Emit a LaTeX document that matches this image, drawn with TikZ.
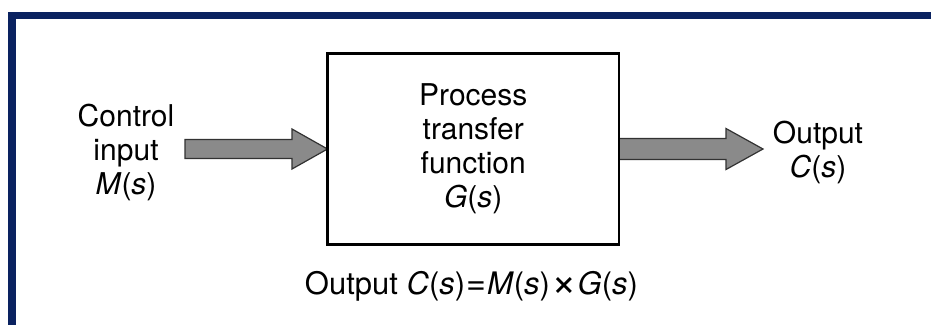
\documentclass[tikz,border=0pt]{standalone}
\usepackage{fontspec}
\setmainfont{TeX Gyre Heros}
\usetikzlibrary{calc}
\definecolor{navy}{RGB}{10,34,96}
\definecolor{arrowgray}{RGB}{138,138,138}
\definecolor{arrowline}{RGB}{50,50,50}
\tikzset{
  lbl/.style={font=\fontsize{30}{34}\selectfont, align=center, inner sep=0pt, outer sep=0pt},
  procbox/.style={draw=black, line width=2.8pt, minimum width=291.5pt, minimum height=191pt, inner sep=0pt, outer sep=0pt, lbl},
  blockarrow/.style={fill=arrowgray, draw=arrowline, line width=1.2pt, line join=miter},
  framebar/.style={fill=navy, draw=none}
}
\begin{document}
\begin{tikzpicture}[x=1pt,y=-1pt]
\useasboundingbox (0,0) rectangle (931,325);
\fill[white] (0,0) rectangle (931,325);
% frame
\fill[framebar] (8.3,11.7) rectangle (931,19.2);
\fill[framebar] (8.3,11.7) rectangle (16.2,325);
% process box
\node[procbox] (box) at (473.25,149) {Process\\transfer\\function\\\textit{G}(\textit{s})};
% input label
\node[lbl] (in) at (126,152) {Control\\input\\\textit{M}(\textit{s})};
% output label
\node[lbl] (out) at (818,152) {Output\\\textit{C}(\textit{s})};
% left block arrow
\draw[blockarrow] ($(box.west)+(-142.5,-9.5)$) -- ($(box.west)+(-35.5,-9.5)$) -- ($(box.west)+(-35.5,-20)$)
  -- (box.west) -- ($(box.west)+(-35.5,20)$) -- ($(box.west)+(-35.5,9.5)$) -- ($(box.west)+(-142.5,9.5)$) -- cycle;
% right block arrow
\draw[blockarrow] ($(box.east)+(0,-10.5)$) -- ($(box.east)+(107,-10.5)$) -- ($(box.east)+(107,-20.5)$)
  -- ($(box.east)+(144,0)$) -- ($(box.east)+(107,20.5)$) -- ($(box.east)+(107,10.5)$) -- ($(box.east)+(0,10.5)$) -- cycle;
% redraw box border on top
\draw[line width=2.8pt] (box.north west) rectangle (box.south east);
% equation
\node[lbl, font=\fontsize{31}{34}\selectfont, anchor=base] (eq) at (471.5,294) {Output \textit{C}(\textit{s})\kern1pt{\fontsize{34}{34}\selectfont=}\kern1pt\textit{M}(\textit{s})\kern1pt{\fontsize{44}{34}\selectfont\raisebox{-2pt}{\texttimes}}\kern1pt\textit{G}(\textit{s})};
\end{tikzpicture}
\end{document}
